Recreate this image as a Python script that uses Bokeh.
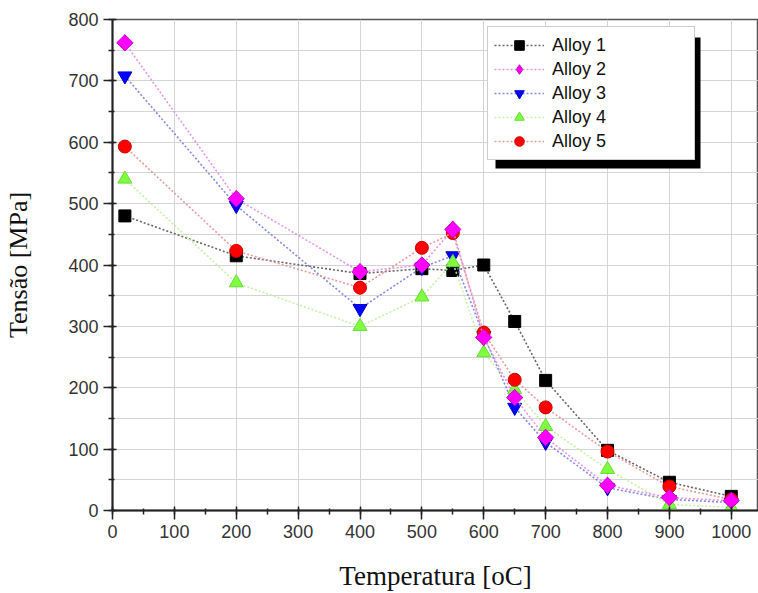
import math
from bokeh.plotting import figure
from bokeh.models import (Range1d, SingleIntervalTicker, Legend, LegendItem,
                          BoxAnnotation, ColumnDataSource)
from bokeh.embed import file_html
from bokeh.resources import INLINE

# ---------------- data ----------------
temps = [20, 200, 400, 500, 550, 600, 650, 700, 800, 900, 1000]
alloy1 = [480, 415, 386, 394, 391, 400, 308, 212, 98, 46, 23]
alloy2 = [762, 508, 389, 400, 458, 282, 184, 119, 41, 21, 16]
alloy3 = [708, 497, 329, 396, 415, 285, 168, 111, 37, 18, 13]
alloy4 = [540, 371, 300, 348, 404, 257, 197, 137, 67, 10, 5]
alloy5 = [593, 423, 363, 428, 452, 290, 213, 168, 96, 39, 18]
names = ["Alloy 1", "Alloy 2", "Alloy 3", "Alloy 4", "Alloy 5"]
x_ticks = list(range(0, 1001, 100))
y_ticks = list(range(0, 801, 100))

# ---------------- layout ----------------
W, H = 758, 593
BL, BR, BT, BB = 112, 0, 19, 83
XMAX, YMAX = 1044, 800

p = figure(width=W, height=H, output_backend="svg", toolbar_location=None,
           x_range=Range1d(0, XMAX), y_range=Range1d(0, YMAX),
           min_border_left=BL, min_border_right=BR, min_border_top=BT,
           min_border_bottom=BB)
p.background_fill_color = "white"
p.border_fill_color = "white"
p.outline_line_color = "#555555"
p.outline_line_width = 1.5

p.xaxis.ticker = SingleIntervalTicker(interval=100, num_minor_ticks=2)
p.yaxis.ticker = SingleIntervalTicker(interval=100, num_minor_ticks=2)
p.xaxis.major_label_overrides = {t: str(t) for t in x_ticks}
p.yaxis.major_label_overrides = {t: str(t) for t in y_ticks}

for ax in (p.xaxis[0], p.yaxis[0]):
    ax.axis_line_color = "#222222"
    ax.axis_line_width = 2
    ax.major_tick_line_color = "#222222"
    ax.minor_tick_line_color = "#222222"
    ax.major_tick_line_width = 1.5
    ax.minor_tick_line_width = 1.5
    ax.major_tick_out = 9
    ax.major_tick_in = 4
    ax.minor_tick_out = 4
    ax.minor_tick_in = 2
    ax.major_label_text_font = "Liberation Sans"
    ax.major_label_text_font_size = "18px"
    ax.major_label_text_color = "#333333"
    ax.axis_label_text_font = "Liberation Serif"
    ax.axis_label_text_font_style = "normal"
    ax.axis_label_text_color = "#111111"

p.xaxis.axis_label = "Temperatura [oC]"
p.yaxis.axis_label = "Tensão [MPa]"
p.xaxis.axis_label_text_font_size = "27px"
p.yaxis.axis_label_text_font_size = "26px"
p.xaxis.axis_label_standoff = 20
p.yaxis.axis_label_standoff = 32

p.xgrid.grid_line_color = "#d4d4d4"
p.xgrid.grid_line_width = 1
p.ygrid.grid_line_color = "#d4d4d4"
p.ygrid.grid_line_width = 1
p.ygrid.minor_grid_line_color = "#d4d4d4"
p.ygrid.minor_grid_line_width = 1

# ---------------- series ----------------
# (values, marker, fill, edge, line colour, size, angle)
series = [
    (alloy1, "square", "#000000", "#000000", "#555555", 12, 0),
    (alloy2, "square", "#ff00ff", "#cc00cc", "#e58ae5", 11.5, math.pi / 4),
    (alloy3, "inverted_triangle", "#0000ff", "#0000cc", "#7a7ae6", 14, 0),
    (alloy4, "triangle", "#80ff40", "#66dd33", "#c0f0a0", 14, 0),
    (alloy5, "circle", "#ff0000", "#cc0000", "#e89090", 13, 0),
]

items = {}
draw_order = [0, 2, 3, 4, 1]
for i in draw_order:
    vals, marker, fill, edge, lcol, size, ang = series[i]
    src = ColumnDataSource(dict(x=temps, y=vals))
    ln = p.line("x", "y", source=src, line_color=lcol, line_width=1.6,
                line_dash="2 2", line_alpha=0.9)
    rends = [ln]
    if ang:
        # diamond glyph used for the legend; covered by the rotated square
        rends.append(p.scatter("x", "y", source=src, marker="diamond",
                               size=16, fill_color=fill, line_color=edge,
                               line_width=1))
    sc = p.scatter("x", "y", source=src, marker=marker, size=size,
                   angle=ang, fill_color=fill, line_color=edge, line_width=1)
    if not ang:
        rends.append(sc)
    items[i] = LegendItem(label=names[i], renderers=rends)

# shadow behind legend (decoration), positioned in pixels -> data
fw = W - BL - BR
fh = H - BT - BB
def px2x(px):
    return (px - BL) / fw * XMAX
def py2y(py):
    return ((BT + fh) - py) / fh * YMAX

shadow = BoxAnnotation(left=px2x(495), right=px2x(700), top=py2y(37),
                       bottom=py2y(168), fill_color="black", fill_alpha=1,
                       line_color=None, level="guide")
p.add_layout(shadow)

legend = Legend(items=[items[i] for i in range(5)],
                location=(375, 350),
                label_text_font="Liberation Sans",
                label_text_font_size="18px",
                label_text_color="#111111",
                glyph_width=50, glyph_height=24, label_height=24,
                label_width=136, label_standoff=8, spacing=0, padding=6,
                margin=0,
                border_line_color="#999999", border_line_width=1.5,
                background_fill_color="white", background_fill_alpha=1)
p.add_layout(legend, "center")

open("out.html", "w").write(file_html(p, INLINE))
